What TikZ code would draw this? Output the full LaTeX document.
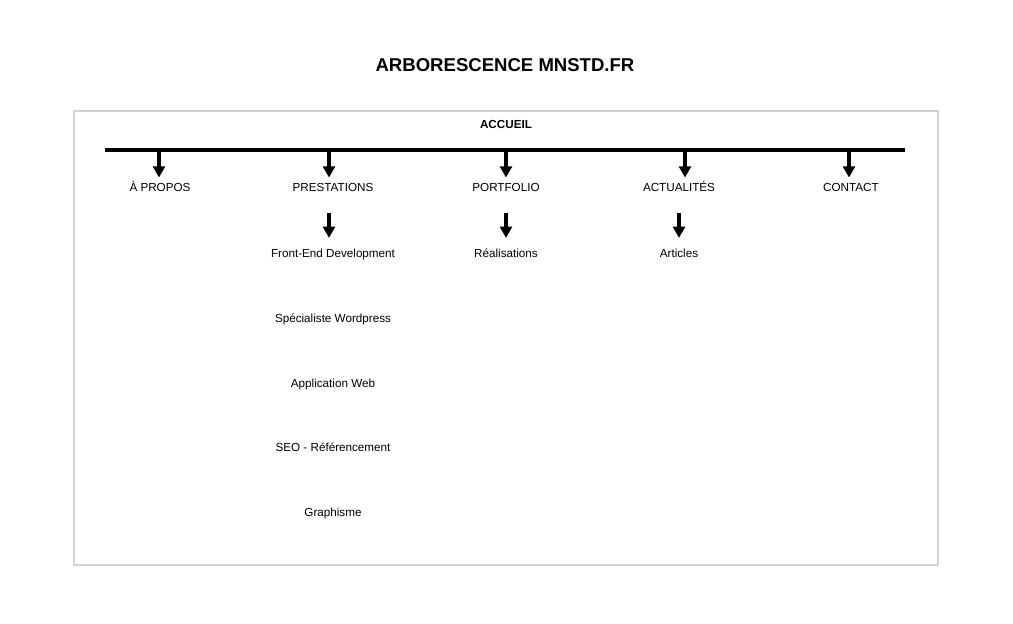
\documentclass[tikz,border=0pt]{standalone}
\usepackage{fontspec}
\setmainfont{Liberation Sans}
\usepackage{tikz}
\usetikzlibrary{positioning}
\usetikzlibrary{arrows.meta}
\definecolor{framegray}{RGB}{210,210,210}

\tikzset{
lbl/.style={inner sep=2pt,text height=6pt,text depth=1.5pt,font=\fontsize{8.3}{10}\selectfont},
arr/.style={line width=2.3pt,-{Triangle[length=8pt,width=8.5pt]}}
}

\begin{document}
\begin{tikzpicture}[x=0.025cm,y=-0.025cm]
\useasboundingbox (0,0) rectangle (1013,624);
\draw [framegray,line width=1.2pt] (74,111) rectangle (938,565);
\path
(505,65) node [font=\fontsize{13.2}{16}\bfseries\selectfont](title) {ARBORESCENCE MNSTD.FR}
(506,125) node [lbl,font=\fontsize{8.3}{10}\bfseries\selectfont](accueil) {ACCUEIL};
% main level
\path
(160,188) node [lbl](apropos) {À PROPOS}
(333,188) node [lbl](prest) {PRESTATIONS}
(506,188) node [lbl](portfolio) {PORTFOLIO}
(679,188) node [lbl](actu) {ACTUALITÉS}
(851,188) node [lbl](contact) {CONTACT};
% sub pages
\path
(333,254) node [lbl](frontend) {Front-End Development}
(333,319) node [lbl](wordpress) {Spécialiste Wordpress}
(333,384) node [lbl](appweb) {Application Web}
(333,448) node [lbl](seo) {SEO - Référencement}
(333,513) node [lbl](graph) {Graphisme}
(506,254) node [lbl](realis) {Réalisations}
(679,254) node [lbl](articles) {Articles};
\coordinate (barL) at (105,150);
\coordinate (barR) at (905,150);
\draw [line width=2.6pt](barL) --(barR);
\coordinate (t1) at (159,150);
\coordinate (t2) at (329,150);
\coordinate (t3) at (506,150);
\coordinate (t4) at (685,150);
\coordinate (t5) at (849,150);
\draw [arr,shorten >=1.5pt](t1) --(t1 |- apropos.north);
\draw [arr,shorten >=1.5pt](t2) --(t2 |- prest.north);
\draw [arr,shorten >=1.5pt](t3) --(t3 |- portfolio.north);
\draw [arr,shorten >=1.5pt](t4) --(t4 |- actu.north);
\draw [arr,shorten >=1.5pt](t5) --(t5 |- contact.north);
\coordinate (s1) at (329,213);
\coordinate (s2) at (506,213);
\coordinate (s3) at (679,213);
\draw [arr,shorten >=5.5pt](s1) --(s1 |- frontend.north);
\draw [arr,shorten >=5.5pt](s2) --(s2 |- realis.north);
\draw [arr,shorten >=5.5pt](s3) --(s3 |- articles.north);
\end{tikzpicture}
\end{document}
